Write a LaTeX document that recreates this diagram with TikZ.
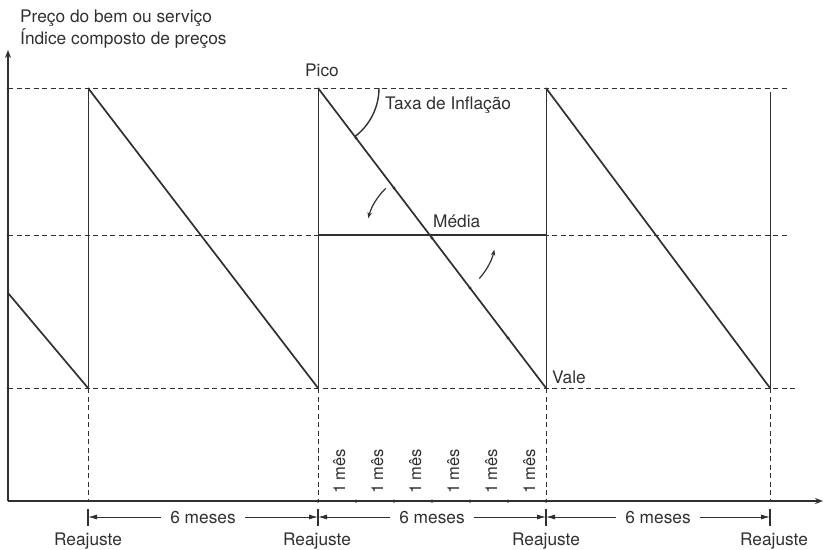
\documentclass[tikz,border=0pt]{standalone}
\usepackage{fontspec}
\setmainfont{TeX Gyre Heros}
\usetikzlibrary{arrows.meta,calc}
\definecolor{ink}{HTML}{303030}
\tikzset{
  lbl/.style={font=\fontsize{17.3}{20}\selectfont, text=ink, inner sep=0pt},
  axisline/.style={draw=ink, line width=1.6pt, -{Stealth[length=8pt,width=6pt]}},
  saw/.style={draw=ink, line width=1.7pt},
  thinv/.style={draw=ink, line width=0.9pt},
  dashline/.style={draw=ink, line width=1pt, dash pattern=on 5pt off 3.5pt},
  dimarrow/.style={draw=ink, line width=0.9pt, {Latex[length=9pt,width=5pt]}-{Latex[length=9pt,width=5pt]}},
  bar/.style={draw=ink, line width=1.1pt},
  curvarrow/.style={draw=ink, line width=1.2pt, -{Stealth[length=6pt,width=4.5pt]}},
  dotmark/.style={circle, fill=ink, inner sep=0pt, minimum size=3pt},
}
\begin{document}
\begin{tikzpicture}[x=1pt,y=-1pt]
\useasboundingbox (0,0) rectangle (824,549);
% axes
\coordinate (O) at (8,501);
\coordinate (Ytop) at (8,50);
\coordinate (Xend) at (823,501);
% level points on the y axis
\coordinate (Ltop) at (8,88);
\coordinate (Lmid) at (8,235);
\coordinate (Lbot) at (8,388);
\coordinate (Etop) at (787,88);
\coordinate (Emid) at (789,235);
\coordinate (Ebot) at (795,388);
% sawtooth
\coordinate (S0) at (8,293);
\coordinate (T1) at (88,88);   \coordinate (B1) at (88,388);
\coordinate (T2) at (318,88);  \coordinate (B2) at (318,388);
\coordinate (T3) at (546,88);  \coordinate (B3) at (546,388);
\coordinate (T4) at (770,92);  \coordinate (B4) at (770,388);
% axis feet
\coordinate (F1) at (88,501); \coordinate (F2) at (318,501);
\coordinate (F3) at (546,501); \coordinate (F4) at (770,501);

% dashed levels
\draw[dashline] (Ltop) -- (Etop);
\draw[dashline] (Lmid) -- (Emid);
\draw[dashline] (Lbot) -- (Ebot);
% dashed verticals
\foreach \i in {1,2,3,4} \draw[dashline] (B\i) -- (F\i);
% thin verticals
\draw[thinv] (T1) -- (B1);
\draw[thinv] (T2) -- (B2);
\draw[thinv] (T3) -- (B3);
\draw[thinv] (T4) -- (B4);
% Media line
\coordinate (MidL) at (318,235);
\coordinate (MidR) at (546,235);
\draw[line width=1.2pt, draw=ink] (MidL) -- (MidR);
% sawtooth diagonals
\draw[saw] (S0) -- (B1);
\draw[saw] (T1) -- (B2);
\draw[saw] (T2) -- (B3);
\draw[saw] (T3) -- (B4);
% axes
\draw[axisline] (O) -- (Ytop);
\draw[axisline] (O) -- (Xend);
\node[dotmark] (yd1) at (Ltop) {};
\node[dotmark] (yd2) at (Lmid) {};
\node[dotmark] (yd3) at (Lbot) {};

% month dots on the diagonal and on the x axis
\foreach \k in {1,...,5} {
  \node[dotmark, minimum size=3.2pt] (dd\k) at ($(T2)!\k/6!(B3)$) {};
}
\foreach \k in {0,...,6} {
  \node[dotmark, minimum size=3.5pt] (xd\k) at (318+38*\k,501) {};
}
% intersection of diagonal with media
\coordinate (M) at (431,235);

% Taxa de inflacao arc
\draw[draw=ink, line width=1.4pt] (T2) ++(0:61) arc[start angle=0, end angle=52.85, radius=61];
% curved arrows
\draw[curvarrow] (M) ++(226:65) arc[start angle=226, end angle=195, radius=65];
\draw[curvarrow] (M) ++(42:65) arc[start angle=42, end angle=13, radius=65];

% labels
\node[lbl, anchor=base west] (t1) at (20,22) {Preço do bem ou serviço};
\node[lbl, anchor=base west] (t2) at (20,44) {Índice composto de preços};
\node[lbl, anchor=base west] (pico) at (305,76) {Pico};
\node[lbl, anchor=base west] (taxa) at (385,109) {Taxa de Inflação};
\node[lbl, anchor=base west] (media) at (433,227) {Média};
\node[lbl, anchor=base west] (vale) at (552,383) {Vale};

% 1 mes labels
\foreach \k in {0,...,5} {
  \node[lbl, rotate=90, anchor=base west, font=\fontsize{16.5}{19}\selectfont] (m\k) at (345+38*\k,494) {1 mês};
}

% dimension bars and arrows
\foreach \i/\x in {1/88,2/318,3/546,4/770} {
  \coordinate (bt\i) at (\x,509);
  \coordinate (bb\i) at (\x,526);
  \coordinate (bm\i) at (\x,517);
  \draw[bar] (bt\i) -- (bb\i);
}
\draw[dimarrow] (bm1) -- node[lbl, fill=white, inner xsep=9pt, inner ysep=2pt] (d1) {6 meses} (bm2);
\draw[dimarrow] (bm2) -- node[lbl, fill=white, inner xsep=9pt, inner ysep=2pt] (d2) {6 meses} (bm3);
\draw[dimarrow] (bm3) -- node[lbl, fill=white, inner xsep=9pt, inner ysep=2pt] (d3) {6 meses} (bm4);

% Reajuste
\node[lbl, anchor=base] (r1) at (88,545) {Reajuste};
\node[lbl, anchor=base] (r2) at (317,545) {Reajuste};
\node[lbl, anchor=base] (r3) at (546,545) {Reajuste};
\node[lbl, anchor=base] (r4) at (774,545) {Reajuste};
\end{tikzpicture}
\end{document}
